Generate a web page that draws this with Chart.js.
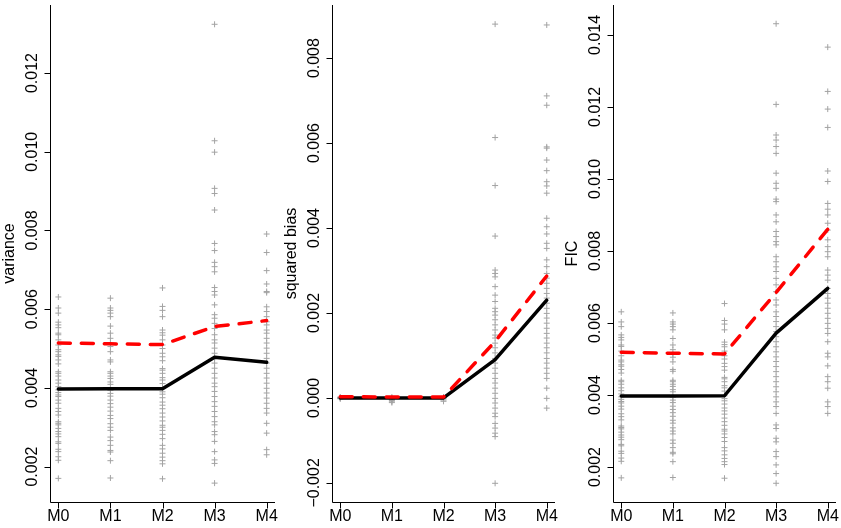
<!DOCTYPE html>
<html>
<head>
<meta charset="utf-8">
<script src="https://cdn.jsdelivr.net/npm/chart.js@4.4.1/dist/chart.umd.min.js"></script>
<style>
  body { margin: 0; background: #fff; }
  #wrap { position: relative; width: 841px; height: 528px; }
  canvas { position: absolute; top: 0; }
</style>
</head>
<body>
<div id="wrap">
  <canvas id="c1" width="280" height="528" style="left:0"></canvas>
  <canvas id="c2" width="280" height="528" style="left:280px"></canvas>
  <canvas id="c3" width="281" height="528" style="left:560px"></canvas>
</div>
<script>
const models = ['M0', 'M1', 'M2', 'M3', 'M4'];

// variance panel
const varTicks = [0.002, 0.004, 0.006, 0.008, 0.010, 0.012];
const varSolid = [0.00397, 0.00398, 0.00398, 0.00478, 0.00465];
const varDashed = [0.00514, 0.00512, 0.00510, 0.00556, 0.00571];
const varM0 = [0.00631, 0.00603, 0.00590, 0.00567, 0.00560, 0.00553, 0.00539, 0.00535, 0.00522, 0.00509,
  0.00497, 0.00492, 0.00484, 0.00480, 0.00471, 0.00461, 0.00441, 0.00437, 0.00430, 0.00420, 0.00412,
  0.00403, 0.00395, 0.00388, 0.00382, 0.00378, 0.00369, 0.00361, 0.00348, 0.00340, 0.00331, 0.00314,
  0.00310, 0.00306, 0.00297, 0.00289, 0.00283, 0.00276, 0.00263, 0.00259, 0.00244, 0.00238, 0.00225,
  0.00216, 0.00170];
const varM1 = [0.00628, 0.00603, 0.00597, 0.00590, 0.00581, 0.00557, 0.00539, 0.00526, 0.00513, 0.00505,
  0.00492, 0.00471, 0.00466, 0.00441, 0.00437, 0.00430, 0.00424, 0.00415, 0.00409, 0.00394, 0.00386,
  0.00379, 0.00369, 0.00360, 0.00351, 0.00341, 0.00330, 0.00322, 0.00309, 0.00300, 0.00292, 0.00275,
  0.00266, 0.00254, 0.00241, 0.00237, 0.00215, 0.00171];
const varM2 = [0.00654, 0.00607, 0.00597, 0.00581, 0.00547, 0.00540, 0.00534, 0.00522, 0.00509, 0.00500,
  0.00488, 0.00479, 0.00469, 0.00449, 0.00445, 0.00437, 0.00426, 0.00420, 0.00411, 0.00398, 0.00390,
  0.00384, 0.00375, 0.00364, 0.00356, 0.00347, 0.00336, 0.00326, 0.00316, 0.00305, 0.00300, 0.00292,
  0.00282, 0.00271, 0.00254, 0.00245, 0.00234, 0.00224, 0.00215, 0.00207, 0.00169];
const varM3 = [0.01324, 0.01028, 0.00999, 0.00907, 0.00894, 0.00852, 0.00767, 0.00749, 0.00719, 0.00708,
  0.00695, 0.00655, 0.00645, 0.00636, 0.00611, 0.00586, 0.00577, 0.00564, 0.00551, 0.00535, 0.00522,
  0.00514, 0.00501, 0.00488, 0.00475, 0.00463, 0.00450, 0.00437, 0.00425, 0.00412, 0.00403, 0.00391,
  0.00378, 0.00365, 0.00353, 0.00340, 0.00327, 0.00314, 0.00306, 0.00289, 0.00281, 0.00264, 0.00238,
  0.00217, 0.00208, 0.00158];
const varM4 = [0.00791, 0.00744, 0.00698, 0.00664, 0.00645, 0.00642, 0.00606, 0.00594, 0.00581, 0.00568,
  0.00560, 0.00547, 0.00539, 0.00526, 0.00514, 0.00501, 0.00488, 0.00475, 0.00463, 0.00450, 0.00437,
  0.00425, 0.00412, 0.00399, 0.00387, 0.00374, 0.00361, 0.00348, 0.00336, 0.00310, 0.00285, 0.00243,
  0.00230];

// squared bias panel
const biasTicks = [-0.002, 0.000, 0.002, 0.004, 0.006, 0.008];
const biasSolid = [0.00000, 0.00000, 0.00000, 0.00090, 0.00230];
const biasDashed = [0.00003, 0.00002, 0.00002, 0.00133, 0.00287];
const biasM0 = [0.00000, 0.00001, -0.00001, 0.00002, -0.00002];
const biasM1 = [0.00000, -0.00003, -0.00006, -0.00009, -0.00011, 0.00002, -0.00002];
const biasM2 = [0.00000, -0.00002, -0.00005, 0.00002, -0.00008];
const biasM3 = [0.00880, 0.00613, 0.00500, 0.00381, 0.00301, 0.00293, 0.00285, 0.00262, 0.00242, 0.00227,
  0.00211, 0.00203, 0.00195, 0.00184, 0.00172, 0.00160, 0.00148, 0.00141, 0.00129, 0.00118, 0.00106,
  0.00093, 0.00082, 0.00070, 0.00058, 0.00046, 0.00035, 0.00023, 0.00011, -0.00001, -0.00012, -0.00024,
  -0.00036, -0.00044, -0.00060, -0.00071, -0.00083, -0.00091, -0.00201];
const biasM4 = [0.00878, 0.00711, 0.00689, 0.00591, 0.00588, 0.00560, 0.00535, 0.00509, 0.00499, 0.00482,
  0.00423, 0.00403, 0.00386, 0.00364, 0.00352, 0.00325, 0.00309, 0.00293, 0.00282, 0.00270, 0.00258,
  0.00246, 0.00235, 0.00223, 0.00211, 0.00199, 0.00188, 0.00176, 0.00164, 0.00152, 0.00141, 0.00129,
  0.00118, 0.00106, 0.00093, 0.00082, 0.00070, 0.00058, 0.00046, 0.00023, -0.00001, -0.00024];

// FIC panel (M0-M2 columns read the same as in the variance panel)
const ficTicks = [0.002, 0.004, 0.006, 0.008, 0.010, 0.012, 0.014];
const ficSolid = [0.00397, 0.00397, 0.00398, 0.00572, 0.00696];
const ficDashed = [0.00519, 0.00516, 0.00514, 0.00685, 0.00860];
const ficM0 = varM0;
const ficM1 = varM1;
const ficM2 = varM2;
const ficM3 = [0.01431, 0.01207, 0.01122, 0.01108, 0.01090, 0.01071, 0.01016, 0.00988, 0.00974, 0.00944,
  0.00937, 0.00900, 0.00881, 0.00854, 0.00840, 0.00826, 0.00817, 0.00784, 0.00770, 0.00756, 0.00743,
  0.00724, 0.00706, 0.00687, 0.00664, 0.00650, 0.00631, 0.00618, 0.00604, 0.00590, 0.00576, 0.00562,
  0.00548, 0.00534, 0.00520, 0.00506, 0.00493, 0.00479, 0.00465, 0.00451, 0.00437, 0.00423, 0.00409,
  0.00395, 0.00381, 0.00368, 0.00349, 0.00317, 0.00307, 0.00280, 0.00270, 0.00243, 0.00229, 0.00206,
  0.00182, 0.00155];
const ficM4 = [0.01366, 0.01243, 0.01194, 0.01143, 0.01022, 0.00993, 0.00932, 0.00916, 0.00900, 0.00877,
  0.00858, 0.00831, 0.00812, 0.00798, 0.00784, 0.00747, 0.00733, 0.00719, 0.00696, 0.00682, 0.00669,
  0.00655, 0.00641, 0.00627, 0.00613, 0.00599, 0.00585, 0.00571, 0.00548, 0.00516, 0.00506, 0.00481,
  0.00451, 0.00437, 0.00419, 0.00381, 0.00368, 0.00349];

const fontFamily = '"Liberation Sans", Arial, Helvetica, sans-serif';

function fmt(v) {
  const s = Math.abs(v).toFixed(3);
  return v < 0 ? '\u2212' + s : s;
}

// R-style axes: L box, outward ticks, labels parallel to the y axis
const rAxes = {
  id: 'rAxes',
  afterDraw(chart) {
    const o = chart.options.plugins.rAxes;
    const { ctx, chartArea: a, scales: { x, y } } = chart;
    ctx.save();
    ctx.strokeStyle = '#000';
    ctx.lineWidth = 1;
    ctx.beginPath();
    const l = a.left + 0.5, b = a.bottom + 0.5;
    ctx.moveTo(l, a.top);
    ctx.lineTo(l, b);
    ctx.lineTo(a.right, b);
    models.forEach((m, i) => {
      const px = Math.round(x.getPixelForValue(i)) + 0.5;
      ctx.moveTo(px, b);
      ctx.lineTo(px, b + 6);
    });
    o.ticks.forEach(v => {
      const py = Math.round(y.getPixelForValue(v)) + 0.5;
      ctx.moveTo(l, py);
      ctx.lineTo(l - 6, py);
    });
    ctx.stroke();

    ctx.fillStyle = '#000';
    ctx.font = '16px ' + fontFamily;
    ctx.textAlign = 'center';
    ctx.textBaseline = 'middle';
    models.forEach((m, i) => ctx.fillText(m, x.getPixelForValue(i), a.bottom + 15));
    o.ticks.forEach(v => {
      ctx.save();
      ctx.translate(a.left - 17, y.getPixelForValue(v));
      ctx.rotate(-Math.PI / 2);
      ctx.fillText(fmt(v), 0, 0);
      ctx.restore();
    });
    ctx.save();
    ctx.translate(a.left - 40, (a.top + a.bottom) / 2);
    ctx.rotate(-Math.PI / 2);
    ctx.fillText(o.title, 0, 0);
    ctx.restore();
    ctx.restore();
  }
};

function makePanel(id, title, cols, solid, dashed, ticks, yMin, yMax, padLeft, padRight) {
  const pts = [];
  cols.forEach((col, i) => col.forEach(v => pts.push({ x: i, y: v })));
  const line = vals => vals.map((v, i) => ({ x: i, y: v }));
  new Chart(document.getElementById(id), {
    type: 'scatter',
    data: {
      datasets: [
        {
          data: line(dashed),
          showLine: true,
          borderColor: '#ff0000',
          borderWidth: 3.5,
          borderDash: [12, 11],
          borderCapStyle: 'round',
          borderJoinStyle: 'round',
          pointRadius: 0,
          order: 0
        },
        {
          data: line(solid),
          showLine: true,
          borderColor: '#000',
          borderWidth: 3.5,
          borderCapStyle: 'round',
          borderJoinStyle: 'round',
          pointRadius: 0,
          order: 1
        },
        {
          data: pts,
          pointStyle: 'cross',
          pointRadius: 3,
          borderColor: '#a3a3a3',
          borderWidth: 1,
          order: 2
        }
      ]
    },
    options: {
      responsive: false,
      animation: false,
      devicePixelRatio: 1,
      layout: { padding: { left: padLeft, right: padRight, top: 5, bottom: 26 } },
      scales: {
        x: { type: 'linear', min: -0.16, max: 4.16, display: false },
        y: { type: 'linear', min: yMin, max: yMax, display: false }
      },
      plugins: {
        legend: { display: false },
        tooltip: { enabled: false },
        rAxes: { title: title, ticks: ticks }
      }
    },
    plugins: [rAxes]
  });
}

makePanel('c1', 'variance', [varM0, varM1, varM2, varM3, varM4], varSolid, varDashed,
  varTicks, 0.00110, 0.01373, 50, 4);
makePanel('c2', 'squared bias', [biasM0, biasM1, biasM2, biasM3, biasM4], biasSolid, biasDashed,
  biasTicks, -0.00245, 0.00925, 52, 2.6);
makePanel('c3', 'FIC', [ficM0, ficM1, ficM2, ficM3, ficM4], ficSolid, ficDashed,
  ficTicks, 0.00103, 0.01483, 53, 1.6);
</script>
</body>
</html>
